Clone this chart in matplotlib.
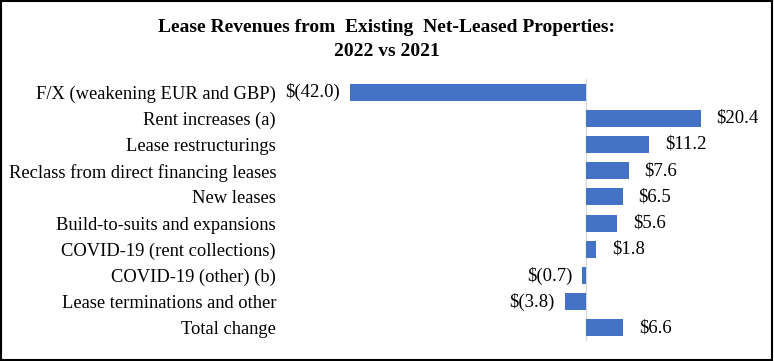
import matplotlib.pyplot as plt

categories = ["F/X (weakening EUR and GBP)", "Rent increases (a)", "Lease restructurings",
              "Reclass from direct financing leases", "New leases",
              "Build-to-suits and expansions", "COVID-19 (rent collections)",
              "COVID-19 (other) (b)", "Lease terminations and other", "Total change"]
values = [-42.0, 20.4, 11.2, 7.6, 6.5, 5.6, 1.8, -0.7, -3.8, 6.6]

plt.rcParams['font.family'] = ['Liberation Serif', 'DejaVu Serif']

W, H = 774, 361
fig = plt.figure(figsize=(W / 100, H / 100), dpi=100)
ax = fig.add_axes([290 / W, 1 - 341 / H, 470 / W, 262 / H])

y = list(range(len(values)))
ax.barh(y, values, height=0.65, color="#4472C4", zorder=2)
ax.axvline(0, color="#D9D9D9", lw=1, zorder=1)
ax.set_xlim(-(586 - 290) / 5.62, (760 - 586) / 5.62)
ax.set_ylim(len(values) - 0.5, -0.5)

def fmt(v):
    return "$(%.1f)" % abs(v) if v < 0 else "$%.1f" % v

for yi, v in zip(y, values):
    if v < 0:
        ax.annotate(fmt(v), (v, yi), xytext=(-7, 0), textcoords="offset points",
                    ha="right", va="center", fontsize=13.5)
    else:
        ax.annotate(fmt(v), (v, yi), xytext=(11.5, 0), textcoords="offset points",
                    ha="left", va="center", fontsize=13.5)

ax.set_yticks(y)
ax.set_yticklabels(categories, fontsize=13.3)
ax.tick_params(axis="y", length=0, pad=10)
ax.set_xticks([])
for s in ax.spines.values():
    s.set_visible(False)

fig.text(0.5, 1 - 27 / H, "Lease Revenues from  Existing  Net-Leased Properties:",
         ha="center", va="center", fontsize=14, fontweight="bold")
fig.text(0.5, 1 - 51 / H, "2022 vs 2021", ha="center", va="center",
         fontsize=14, fontweight="bold")

fig.patches.append(plt.Rectangle((0.001, 0.002), 0.997, 0.996, transform=fig.transFigure,
                                 fill=False, edgecolor="black", lw=1.5))

fig.savefig("out.png", dpi=100)
